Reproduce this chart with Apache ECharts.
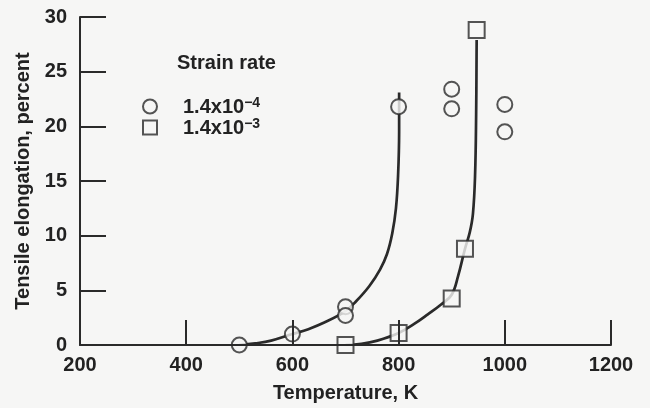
<!DOCTYPE html>
<html>
<head>
<meta charset="utf-8">
<script src="https://cdn.jsdelivr.net/npm/echarts@6/dist/echarts.min.js"></script>
<style>
  html, body { margin: 0; padding: 0; background: #f6f6f5; }
  #chart { width: 650px; height: 408px; }
</style>
</head>
<body>
<div id="chart"></div>
<script>
// Axis ticks
const xTicks = [200, 400, 600, 800, 1000, 1200];
const yTicks = [0, 5, 10, 15, 20, 25, 30];

// Measured elongation, strain rate 1.4x10^-4 (circles)
const tempSlow = [500, 600, 700, 700, 800, 900, 900, 1000, 1000];
const elongSlow = [0, 1.0, 3.5, 2.7, 21.8, 23.4, 21.6, 22.0, 19.5];

// Measured elongation, strain rate 1.4x10^-3 (squares)
const tempFast = [700, 800, 900, 925, 947];
const elongFast = [0, 1.1, 4.25, 8.8, 28.8];

// Hand-drawn trend curve through the slow-rate data
const curveSlowT = [500, 530, 560, 600, 630, 660, 700, 720, 745, 765, 778, 788, 795, 799, 801, 801];
const curveSlowE = [0, 0.15, 0.4, 1.0, 1.45, 2.05, 3.1, 4.0, 5.4, 6.9, 8.3, 10.2, 12.5, 15.5, 19.5, 23.1];

// Hand-drawn trend curve through the fast-rate data
const curveFastT = [700, 730, 760, 800, 830, 855, 880, 900, 912, 925, 934, 940, 944, 946, 947];
const curveFastE = [0, 0.1, 0.4, 1.1, 1.95, 2.8, 3.7, 4.6, 6.3, 8.8, 10.3, 12.0, 15.5, 21.0, 27.9];

const seriesNames = ['1.4x10-4', '1.4x10-3'];
const legendRich = {
  '1.4x10-4': '{a|1.4x10}{b|\u22124}',
  '1.4x10-3': '{a|1.4x10}{b|\u22123}'
};

const zip = (xs, ys) => xs.map((x, i) => [x, ys[i]]);

const ink = '#2a2a2a';
const bg = '#f6f6f5';
const font = 'Liberation Sans, Arial, Helvetica, sans-serif';
const labelStyle = { fontFamily: font, fontSize: 20, fontWeight: 'bold', color: '#222' };

const chart = echarts.init(document.getElementById('chart'), null, { renderer: 'canvas' });

chart.setOption({
  backgroundColor: bg,
  animation: false,
  textStyle: { fontFamily: font },
  grid: { left: 80, right: 39, top: 17, bottom: 62, containLabel: false },
  title: {
    text: 'Strain rate',
    left: 177,
    top: 53,
    padding: 0,
    textStyle: labelStyle
  },
  legend: {
    data: seriesNames,
    orient: 'vertical',
    left: 142,
    top: 96,
    padding: 0,
    itemWidth: 14,
    itemHeight: 14,
    itemGap: 0,
    formatter: name => legendRich[name],
    textStyle: {
      fontFamily: font,
      color: '#222',
      rich: {
        a: { fontSize: 20, fontWeight: 'bold', color: '#222', padding: [0, 0, 0, 21], lineHeight: 21, verticalAlign: 'bottom' },
        b: { fontSize: 14, fontWeight: 'bold', color: '#222', lineHeight: 14, verticalAlign: 'top' }
      }
    }
  },
  xAxis: {
    type: 'value',
    min: xTicks[0],
    max: xTicks[xTicks.length - 1],
    interval: xTicks[1] - xTicks[0],
    z: 5,
    name: 'Temperature, K',
    nameLocation: 'middle',
    nameGap: 38,
    nameTextStyle: labelStyle,
    axisLine: { show: true, lineStyle: { color: ink, width: 2 } },
    axisTick: { show: true, inside: true, length: 25, lineStyle: { color: ink, width: 2 } },
    axisLabel: Object.assign({ margin: 10, formatter: v => String(v) }, labelStyle),
    splitLine: { show: false }
  },
  yAxis: {
    type: 'value',
    min: yTicks[0],
    max: yTicks[yTicks.length - 1],
    interval: yTicks[1] - yTicks[0],
    z: 5,
    name: 'Tensile elongation, percent',
    nameLocation: 'middle',
    nameGap: 46,
    nameTextStyle: labelStyle,
    axisLine: { show: true, lineStyle: { color: ink, width: 2 } },
    axisTick: { show: true, inside: true, length: 26, lineStyle: { color: ink, width: 2 } },
    axisLabel: Object.assign({ margin: 13, formatter: v => String(v) }, labelStyle),
    splitLine: { show: false }
  },
  series: [
    {
      name: 'curveSlow',
      type: 'line',
      data: zip(curveSlowT, curveSlowE),
      smooth: 0.4,
      showSymbol: false,
      symbol: 'none',
      lineStyle: { color: ink, width: 2.7 },
      z: 1,
      silent: true
    },
    {
      name: 'curveFast',
      type: 'line',
      data: zip(curveFastT, curveFastE),
      smooth: 0.4,
      showSymbol: false,
      symbol: 'none',
      lineStyle: { color: ink, width: 2.7 },
      z: 1,
      silent: true
    },
    {
      name: seriesNames[0],
      type: 'scatter',
      data: zip(tempSlow, elongSlow),
      symbol: 'circle',
      symbolSize: 15,
      itemStyle: { color: bg, borderColor: ink, borderWidth: 2 },
      z: 3
    },
    {
      name: seriesNames[1],
      type: 'scatter',
      data: zip(tempFast, elongFast),
      symbol: 'rect',
      symbolSize: 16,
      itemStyle: { color: bg, borderColor: ink, borderWidth: 2 },
      z: 3
    }
  ]
});
</script>
</body>
</html>
